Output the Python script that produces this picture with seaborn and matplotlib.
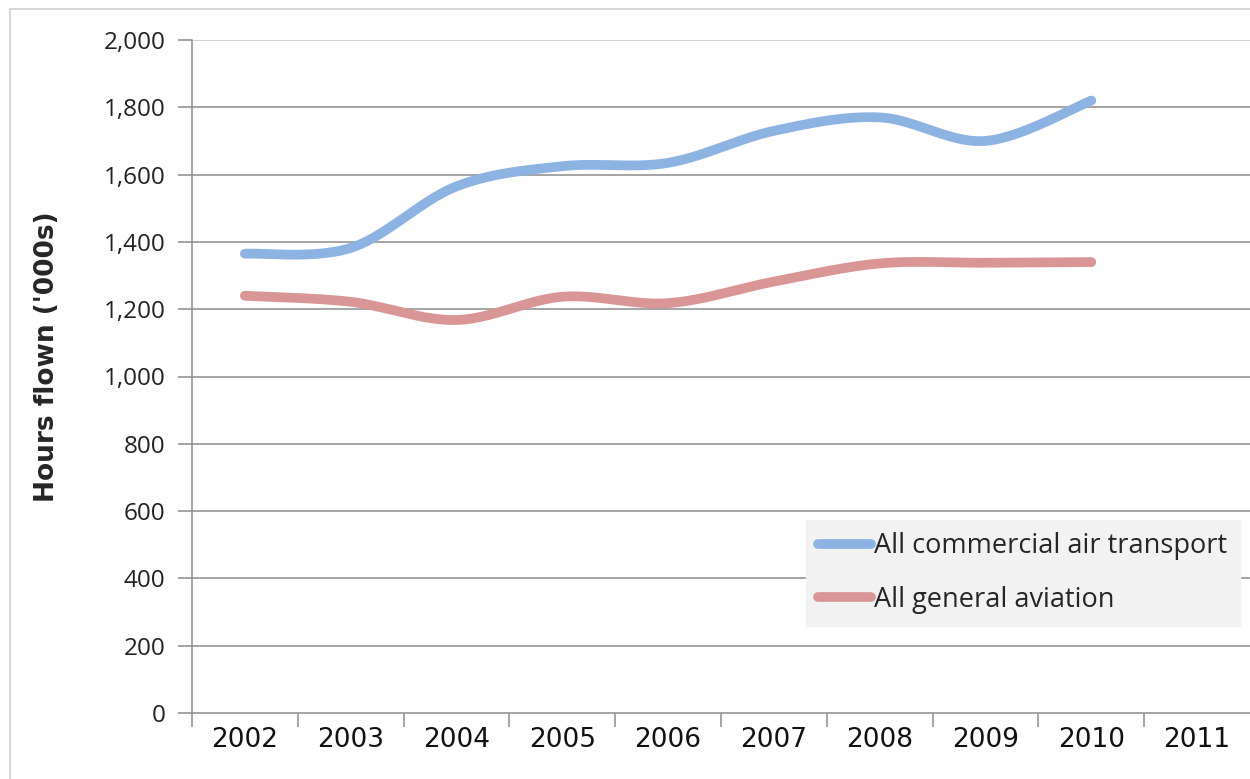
import numpy as np
import pandas as pd
import matplotlib
matplotlib.use("Agg")
import matplotlib.pyplot as plt
from matplotlib.patches import Rectangle
import seaborn as sns

# Annual hours flown ('000s)
years = ["2002", "2003", "2004", "2005", "2006", "2007", "2008", "2009", "2010", "2011"]
commercial = [1365, 1382, 1565, 1625, 1635, 1730, 1770, 1700, 1820]
general = [1240, 1222, 1168, 1237, 1218, 1282, 1336, 1338, 1340]
series_names = ["All commercial air transport", "All general aviation"]
series_colors = ["#8db3e2", "#d99694"]
y_ticks = list(range(0, 2001, 200))


def smooth_curve(values, steps=40):
    """Cubic Bezier smoothing through every point (Catmull-Rom tangents)."""
    v = np.asarray(values, dtype=float)
    n = len(v)
    xs, ys = [], []
    for i in range(n - 1):
        p0 = v[i - 1] if i > 0 else v[i]
        p1, p2 = v[i], v[i + 1]
        p3 = v[i + 2] if i + 2 < n else v[i + 1]
        x0 = i - 1 if i > 0 else i
        x3 = i + 2 if i + 2 < n else i + 1
        c1y = p1 + (p2 - p0) / 6.0
        c2y = p2 - (p3 - p1) / 6.0
        c1x = i + (i + 1 - x0) / 6.0
        c2x = i + 1 - (x3 - i) / 6.0
        t = np.linspace(0, 1, steps, endpoint=(i == n - 2))
        b0 = (1 - t) ** 3
        b1 = 3 * (1 - t) ** 2 * t
        b2 = 3 * (1 - t) * t ** 2
        b3 = t ** 3
        xs.append(b0 * i + b1 * c1x + b2 * c2x + b3 * (i + 1))
        ys.append(b0 * p1 + b1 * c1y + b2 * c2y + b3 * p2)
    return np.concatenate(xs), np.concatenate(ys)


frames = []
for name, vals in zip(series_names, [commercial, general]):
    sx, sy = smooth_curve(vals)
    frames.append(pd.DataFrame({"x": sx, "hours": sy, "series": name, "order": np.arange(len(sx))}))
df = pd.concat(frames, ignore_index=True)

sns.set_theme(style="white")
plt.rcParams["font.family"] = ["Liberation Sans", "DejaVu Sans"]

fig = plt.figure(figsize=(12.5, 7.79), dpi=100)
ax = fig.add_axes([192 / 1250, 1 - 713 / 779, 1 - 192 / 1250, (713 - 40) / 779])

# outer chart frame
fig.patches.append(Rectangle((10 / 1250, -0.05), 1.2, 1 - 9 / 779 + 0.05,
                             transform=fig.transFigure, fill=False,
                             edgecolor="#d0d0d0", linewidth=1.2, zorder=0))

grid_color = "#8c8c8c"
for yv in y_ticks[1:]:
    ax.axhline(yv, color="#c8c8c8" if yv == 2000 else grid_color, linewidth=1.1, zorder=1)

sns.lineplot(data=df, x="x", y="hours", hue="series", units="series", estimator=None,
             sort=False, palette=series_colors, hue_order=series_names,
             linewidth=7, ax=ax, legend=False, zorder=3)
for line in ax.get_lines():
    line.set_solid_capstyle("round")

ax.set_xlim(-0.5, len(years) - 0.5)
ax.set_ylim(0, 2000)

# y axis
ax.set_yticks(y_ticks)
ax.set_yticklabels([f"{v:,}" for v in y_ticks], fontsize=17.5, color="#222222",
                   family=["Open Sans", "DejaVu Sans"])
ax.tick_params(axis="y", direction="out", length=10, width=1.1, color=grid_color, pad=9, left=True)

# x axis: ticks at category boundaries, labels at centres
ax.set_xticks(np.arange(-0.5, len(years) - 0.5, 1.0))
ax.set_xticklabels([])
ax.set_xticks(np.arange(len(years)), minor=True)
ax.set_xticklabels(years, minor=True, fontsize=19, color="#111111",
                   family=["Liberation Sans Narrow", "DejaVu Sans"])
ax.tick_params(axis="x", which="major", direction="out", length=10, width=1.1, color=grid_color, bottom=True)
ax.tick_params(axis="x", which="minor", length=0, pad=10)

for side in ["top", "right"]:
    ax.spines[side].set_visible(False)
for side in ["left", "bottom"]:
    ax.spines[side].set_color(grid_color)
    ax.spines[side].set_linewidth(1.1)

ax.set_xlabel("")
ax.set_ylabel("Hours flown ('000s)", fontsize=19, fontweight="bold",
              family=["Liberation Sans Narrow", "DejaVu Sans"])
ax.yaxis.set_label_coords((60 - 192) / 1058, (713 - 357) / 673)

# legend
handles = [plt.Line2D([], [], color=c, linewidth=7, solid_capstyle="round") for c in series_colors]
leg = ax.legend(handles, series_names, loc="upper left",
                bbox_to_anchor=((806 - 192) / 1058, (713 - 520) / 673),
                frameon=True, fancybox=False, facecolor="#f2f2f2", edgecolor="#f2f2f2",
                framealpha=1, handlelength=1.95, handletextpad=0.12,
                borderpad=0.45, labelspacing=0.95, borderaxespad=0,
                prop={"family": ["Open Sans", "DejaVu Sans"], "size": 19.5})

fig.savefig("out.png", dpi=100)
